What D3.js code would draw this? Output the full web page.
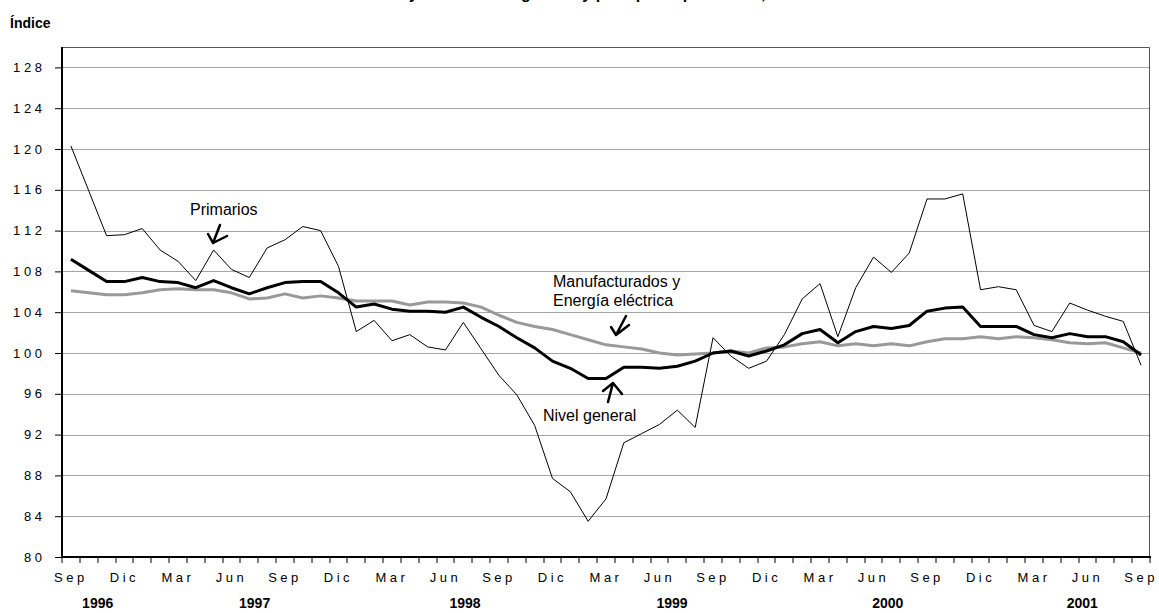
<!DOCTYPE html>
<html><head><meta charset="utf-8">
<script src="https://cdn.jsdelivr.net/npm/d3@7"></script>
<style>
body{margin:0;background:#fff;}
svg{display:block;font-family:Arial,"Liberation Sans",sans-serif;}
</style></head>
<body><svg id="c" width="1159" height="613"></svg>
<script>
// month index 0 = Sep 1996 ... 60 = Sep 2001
const categories = ["1996-09","1996-10","1996-11","1996-12","1997-01","1997-02","1997-03","1997-04","1997-05","1997-06","1997-07","1997-08","1997-09","1997-10","1997-11","1997-12",
"1998-01","1998-02","1998-03","1998-04","1998-05","1998-06","1998-07","1998-08","1998-09","1998-10","1998-11","1998-12",
"1999-01","1999-02","1999-03","1999-04","1999-05","1999-06","1999-07","1999-08","1999-09","1999-10","1999-11","1999-12",
"2000-01","2000-02","2000-03","2000-04","2000-05","2000-06","2000-07","2000-08","2000-09","2000-10","2000-11","2000-12",
"2001-01","2001-02","2001-03","2001-04","2001-05","2001-06","2001-07","2001-08","2001-09"];

const primarios = [120.3,115.9,111.5,111.6,112.2,110.1,109.0,107.1,110.1,108.2,107.4,110.3,111.1,112.4,112.0,108.5,
102.1,103.2,101.2,101.8,100.6,100.3,103.0,100.4,97.8,95.9,92.9,87.7,86.4,83.5,85.7,91.2,92.1,93.0,94.4,92.7,
101.5,99.7,98.5,99.2,101.8,105.3,106.8,101.6,106.4,109.4,107.9,109.8,115.1,115.1,115.6,106.2,106.5,106.2,
102.7,102.1,104.9,104.2,103.6,103.1,98.8];

const nivelGeneral = [109.2,108.1,107.0,107.0,107.4,107.0,106.9,106.4,107.1,106.4,105.8,106.4,106.9,107.0,107.0,105.9,
104.5,104.8,104.3,104.1,104.1,104.0,104.5,103.5,102.6,101.5,100.5,99.2,98.5,97.5,97.5,98.6,98.6,98.5,98.7,99.2,
100.0,100.2,99.7,100.2,100.8,101.9,102.3,101.0,102.1,102.6,102.4,102.7,104.1,104.4,104.5,102.6,102.6,102.6,
101.8,101.5,101.9,101.6,101.6,101.1,99.8];

const manufacturados = [106.1,105.9,105.7,105.7,105.9,106.2,106.3,106.2,106.2,105.9,105.3,105.4,105.8,105.4,105.6,105.4,
105.1,105.1,105.1,104.7,105.0,105.0,104.9,104.5,103.7,103.0,102.6,102.3,101.8,101.3,100.8,100.6,100.4,100.0,99.8,99.9,
100.0,100.2,100.0,100.5,100.6,100.9,101.1,100.7,100.9,100.7,100.9,100.7,101.1,101.4,101.4,101.6,101.4,101.6,
101.5,101.3,101.0,100.9,101.0,100.5,100.0];

const monthTickIdx = [0,3,6,9,12,15,18,21,24,27,30,33,36,39,42,45,48,51,54,57,60];
const monthTickLabels = ["Sep","Dic","Mar","Jun","Sep","Dic","Mar","Jun","Sep","Dic","Mar","Jun","Sep","Dic","Mar","Jun","Sep","Dic","Mar","Jun","Sep"];
const yearLabels = ["1996","1997","1998","1999","2000","2001"];
const yearLabelPos = [1.5,10.3,22.1,33.7,45.8,56.7];
const yTicks = [80,84,88,92,96,100,104,108,112,116,120,124,128];

const svg = d3.select("#c");
const L = 62, R = 1150, T = 47, B = 557;
const x = d3.scaleBand().domain(d3.range(categories.length)).range([L, R]).padding(0);
const xc = i => x(i) + x.bandwidth()/2;
const xf = v => L + (v + 0.5) * x.bandwidth();
const y = d3.scaleLinear().domain([80, 130]).range([B, T]);

// title (cut off at the top edge, as in the source)
svg.append("text").attr("x", 585).attr("y", -1).attr("text-anchor","middle")
  .attr("font-weight","bold").attr("font-size",16)
  .text("Precios mayoristas: nivel general y por tipo de productos, 1996-2001");
svg.append("text").attr("x", 10).attr("y", 28).attr("font-weight","bold").attr("font-size",14).text("Índice");

// gridlines
svg.append("g").selectAll("line").data(yTicks.filter(d => d > 80)).join("line")
  .attr("x1", L).attr("x2", R).attr("y1", d => Math.round(y(d))+0.5).attr("y2", d => Math.round(y(d))+0.5)
  .attr("stroke","#a6a6a6").attr("stroke-width",1);

// frame top/right
svg.append("path").attr("d", `M${L},${T+0.5}H${R-0.5}V${B}`).attr("fill","none").attr("stroke","#555").attr("stroke-width",1);

// y axis
const yAxis = d3.axisLeft(y).tickValues(yTicks).tickSize(7).tickPadding(13)
  .tickFormat(d => String(d).split("").join(" "));
const gy = svg.append("g").attr("transform", `translate(${L},0)`).call(yAxis);
gy.select(".domain").remove();
gy.selectAll(".tick line").attr("stroke","#000");
gy.selectAll(".tick text").attr("font-size",13).attr("font-family","Arial,'Liberation Sans',sans-serif").attr("fill","#000");
svg.append("line").attr("x1",L).attr("x2",L).attr("y1",T).attr("y2",B).attr("stroke","#000").attr("stroke-width",2);

// x axis
svg.append("line").attr("x1",L-1).attr("x2",R+1).attr("y1",B).attr("y2",B).attr("stroke","#000").attr("stroke-width",2);
const tickXs = d3.range(categories.length).map(i => x(i)).concat([R]);
svg.append("g").selectAll("line").data(tickXs).join("line")
  .attr("x1", d => Math.round(d)).attr("x2", d => Math.round(d)).attr("y1", B).attr("y2", B+6)
  .attr("stroke","#000").attr("stroke-width",1);
svg.append("g").selectAll("text").data(monthTickIdx).join("text")
  .attr("x", d => xc(d)).attr("y", 582).attr("text-anchor","middle")
  .attr("font-size",13).attr("letter-spacing","3.5px")
  .text((d,i) => monthTickLabels[i]);
svg.append("g").selectAll("text").data(yearLabels).join("text")
  .attr("x", (d,i) => xf(yearLabelPos[i])).attr("y", 608).attr("text-anchor","middle")
  .attr("font-size",14).attr("font-weight","bold")
  .text(d => d);

// lines
const line = d3.line().x((d,i) => xc(i)).y(d => y(d));
svg.append("path").datum(manufacturados).attr("d", line).attr("fill","none").attr("stroke","#999").attr("stroke-width",3).attr("stroke-linejoin","round");
svg.append("path").datum(primarios).attr("d", line).attr("fill","none").attr("stroke","#000").attr("stroke-width",1);
svg.append("path").datum(nivelGeneral).attr("d", line).attr("fill","none").attr("stroke","#000").attr("stroke-width",3).attr("stroke-linejoin","round");

// annotations
function ann(lines, tx, ty, shaft, arms){
  const t = svg.append("text").attr("font-size",16).attr("fill","#000");
  lines.forEach((s,k) => t.append("tspan").attr("x",tx).attr("y",ty + k*19).text(s));
  svg.append("path").attr("d", `M${shaft[0]},${shaft[1]}L${shaft[2]},${shaft[3]}M${arms[0]},${arms[1]}L${shaft[2]},${shaft[3]}L${arms[2]},${arms[3]}`)
    .attr("fill","none").attr("stroke","#000").attr("stroke-width",2.5).attr("stroke-linecap","round").attr("stroke-linejoin","round");
}
ann(["Primarios"], 190, 215, [220,225,213,243], [208,234,227,236]);
ann(["Manufacturados y","Energía eléctrica"], 553, 287, [626,316,616,335], [611,327,629,325]);
ann(["Nivel general"], 543, 421, [608,402,613,383], [603,391,622,394]);
</script></body></html>
